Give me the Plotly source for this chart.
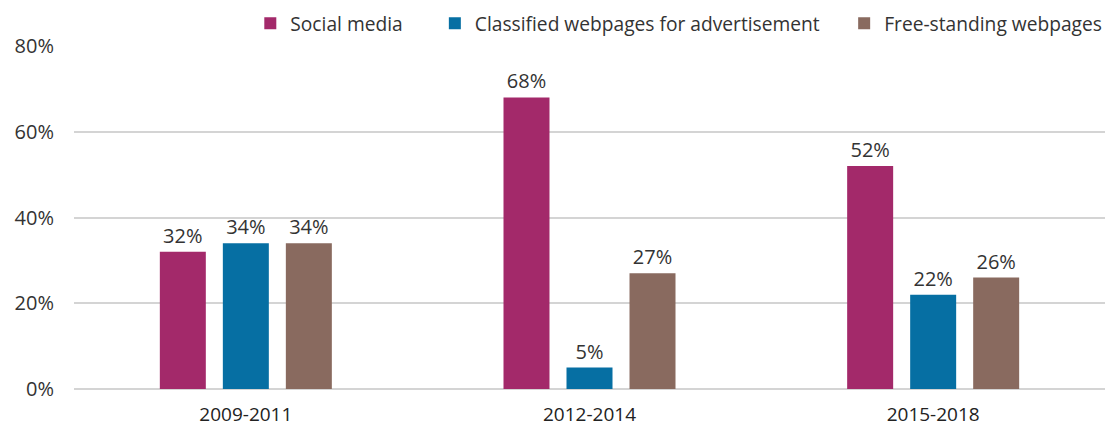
import plotly.graph_objects as go

# Periods on the x axis
periods = ["2009-2011", "2012-2014", "2015-2018"]

# Share of listings by channel (%)
social_media = [32, 68, 52]
classified_pages = [34, 5, 22]
free_standing = [34, 27, 26]

series_names = ["Social media", "Classified webpages for advertisement", "Free-standing webpages"]
series_colors = ["#A3296A", "#066FA3", "#896A5F"]
series_values = [social_media, classified_pages, free_standing]

# y-axis ticks
y_ticks = [0, 20, 40, 60, 80]
y_tick_labels = ["0%", "20%", "40%", "60%", "80%"]

FONT = "Open Sans, Noto Sans, sans-serif"
TEXT = "#333333"

# one legend per series so each key sits at its own spot along the top
legend_ids = ["legend", "legend2", "legend3"]
legend_x = [0.171, 0.350, 0.747]

fig = go.Figure()
for name, color, vals, lg in zip(series_names, series_colors, series_values, legend_ids):
    fig.add_trace(go.Bar(
        x=periods,
        y=vals,
        name=name,
        legend=lg,
        showlegend=True,
        marker=dict(color=color, line=dict(width=0)),
        texttemplate="%{y}%",
        textposition="outside",
        textfont=dict(family=FONT, size=20, color=TEXT),
        cliponaxis=False,
    ))

legend_style = dict(
    orientation="h",
    xanchor="left",
    y=1.066, yanchor="middle",
    font=dict(family=FONT, size=19.2, color=TEXT),
    itemwidth=30,
    bgcolor="rgba(0,0,0,0)",
)

fig.update_layout(
    width=1107,
    height=429,
    margin=dict(l=74, r=2, t=46, b=40, autoexpand=False),
    paper_bgcolor="white",
    plot_bgcolor="white",
    showlegend=True,
    barmode="group",
    bargap=0.45,
    bargroupgap=0.27,
    font=dict(family=FONT, size=19, color=TEXT),
    legend=dict(x=legend_x[0], **legend_style),
    legend2=dict(x=legend_x[1], **legend_style),
    legend3=dict(x=legend_x[2], **legend_style),
    xaxis=dict(
        showgrid=False,
        showline=False,
        ticks="",
        ticklabelstandoff=12,
        tickfont=dict(family=FONT, size=19, color="#222222"),
    ),
    yaxis=dict(
        range=[0, 80],
        tickvals=y_ticks,
        ticktext=y_tick_labels,
        showgrid=True,
        gridcolor="#D4D4D4",
        gridwidth=2,
        zeroline=True,
        zerolinecolor="#D4D4D4",
        zerolinewidth=2,
        showline=False,
        ticks="",
        ticklabelstandoff=19,
        tickfont=dict(family=FONT, size=20, color=TEXT),
    ),
)

fig.write_html("out.html")
